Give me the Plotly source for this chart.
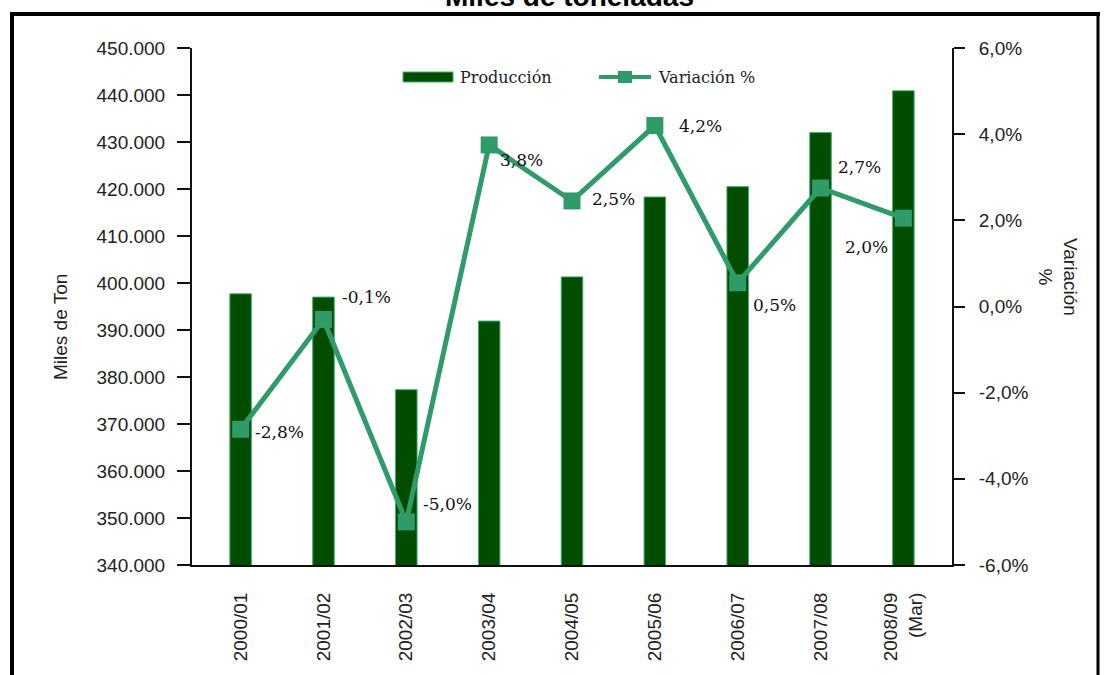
import plotly.graph_objects as go

# ---------------- data ----------------
categories = ["2000/01", "2001/02", "2002/03", "2003/04", "2004/05",
              "2005/06", "2006/07", "2007/08", "2008/09<br>(Mar)"]
produccion = [397700, 397000, 377300, 391900, 401300, 418300, 420500, 432000, 440900]
variacion = [-2.85, -0.3, -5.0, 3.75, 2.45, 4.2, 0.55, 2.75, 2.05]
variacion_labels = ["-2,8%", "-0,1%", "-5,0%", "3,8%", "2,5%", "4,2%", "0,5%", "2,7%", "2,0%"]
y_ticks = list(range(340000, 450001, 10000))
y2_ticks = [-6, -4, -2, 0, 2, 4, 6]
y2_ticktext = ["-6,0%", "-4,0%", "-2,0%", "0,0%", "2,0%", "4,0%", "6,0%"]

# label placement styles (anchor, xshift, yshift) per point
label_style = [("left", 12, -3), ("left", 17, 22), ("left", 15, 18), ("left", 9, -15),
               ("left", 18, 2), ("left", 22, 0), ("left", 13, -22), ("left", 15, 21),
               ("right", -13, -29)]

# ---------------- layout geometry ----------------
W, H = 1111, 675
L, R, T, B = 192, 159, 48, 110
PW, PH = W - L - R, H - T - B


def px(x):
    return (x - L) / PW


def py(y):
    return (H - B - y) / PH


BAR = "#004d00"
LINE = "#2e9b68"
TXT = "#222222"
SANS = "Liberation Sans, Arial, sans-serif"
SERIF = "DejaVu Serif, serif"

fig = go.Figure()
fig.add_trace(go.Bar(
    x=categories, y=produccion, name="Producción",
    marker=dict(color=BAR, line=dict(color="#3fae75", width=1)),
    width=0.26, yaxis="y", showlegend=False,
))
fig.add_trace(go.Scatter(
    x=categories, y=variacion, name="Variación %", mode="lines+markers",
    line=dict(color=LINE, width=5),
    marker=dict(symbol="square", size=17, color=LINE),
    yaxis="y2", showlegend=False,
))

annotations = []
for c, v, lab, (anc, xs, ys) in zip(categories, variacion, variacion_labels, label_style):
    annotations.append(dict(
        x=c, y=v, xref="x", yref="y2", text=lab, showarrow=False,
        xanchor=anc, yanchor="middle", xshift=xs, yshift=ys,
        font=dict(family=SERIF, size=17, color="#111111"),
    ))

# title (cut at the top of the picture, as in the reference)
annotations.append(dict(
    x=px(569), y=py(-3), xref="paper", yref="paper", text="<b>Miles de toneladas</b>",
    showarrow=False, xanchor="center", yanchor="middle",
    font=dict(family=SANS, size=28, color="#000000"),
))
# axis titles
annotations.append(dict(
    x=px(61), y=py(327), xref="paper", yref="paper", text="Miles de Ton",
    showarrow=False, textangle=-90, xanchor="center", yanchor="middle",
    font=dict(family=SANS, size=19, color=TXT),
))
annotations.append(dict(
    x=px(1058), y=py(277), xref="paper", yref="paper", text="Variación<br>%",
    showarrow=False, textangle=90, xanchor="center", yanchor="middle",
    font=dict(family=SANS, size=19, color=TXT),
))
# custom legend texts
annotations.append(dict(
    x=px(458), y=py(77), xref="paper", yref="paper", text="Producción",
    showarrow=False, xanchor="left", yanchor="middle",
    font=dict(family=SERIF, size=16, color=TXT),
))
annotations.append(dict(
    x=px(656), y=py(77), xref="paper", yref="paper", text="Variación %",
    showarrow=False, xanchor="left", yanchor="middle",
    font=dict(family=SERIF, size=16, color=TXT),
))

shapes = [
    # outer frame
    dict(type="line", xref="paper", yref="paper", x0=px(12), x1=px(12), y0=py(14), y1=py(700),
         line=dict(color="#000000", width=4)),
    dict(type="line", xref="paper", yref="paper", x0=px(10), x1=px(1100), y0=py(14), y1=py(14),
         line=dict(color="#000000", width=4)),
    dict(type="line", xref="paper", yref="paper", x0=px(1098), x1=px(1098), y0=py(14), y1=py(700),
         line=dict(color="#000000", width=3)),
    # legend swatches
    dict(type="rect", xref="paper", yref="paper", x0=px(403), x1=px(453), y0=py(82), y1=py(72),
         fillcolor=BAR, line=dict(color="#3fae75", width=1)),
    dict(type="line", xref="paper", yref="paper", x0=px(599), x1=px(651), y0=py(77), y1=py(77),
         line=dict(color=LINE, width=4)),
    dict(type="rect", xref="paper", yref="paper", x0=px(618), x1=px(632), y0=py(83), y1=py(71),
         fillcolor=LINE, line=dict(width=0)),
]

fig.update_layout(
    width=W, height=H,
    margin=dict(l=L, r=R, t=T, b=B, pad=0),
    paper_bgcolor="white", plot_bgcolor="white",
    separators=",.",
    bargap=0.74,
    showlegend=False,
    xaxis=dict(
        type="category", showgrid=False, zeroline=False,
        showline=True, linecolor="#111111", linewidth=2,
        ticks="", tickangle=-90, ticklabelstandoff=18,
        tickfont=dict(family=SANS, size=19, color=TXT),
    ),
    yaxis=dict(
        range=[340000, 450000], tickvals=y_ticks, tickformat=",d",
        showgrid=False, zeroline=False,
        showline=True, linecolor="#111111", linewidth=2,
        ticks="outside", ticklen=13, tickwidth=2, tickcolor="#111111",
        ticklabelstandoff=8,
        tickfont=dict(family=SANS, size=19, color=TXT),
    ),
    yaxis2=dict(
        range=[-6, 6], tickmode="array", tickvals=y2_ticks, ticktext=y2_ticktext,
        overlaying="y", side="right", showgrid=False, zeroline=False,
        showline=True, linecolor="#111111", linewidth=2,
        ticks="outside", ticklen=11, tickwidth=2, tickcolor="#111111",
        ticklabelstandoff=10,
        tickfont=dict(family=SANS, size=19, color=TXT),
    ),
    annotations=annotations,
    shapes=shapes,
)

fig.write_html("out.html", config={"displayModeBar": False},
               post_script="document.body.style.margin='0';")
